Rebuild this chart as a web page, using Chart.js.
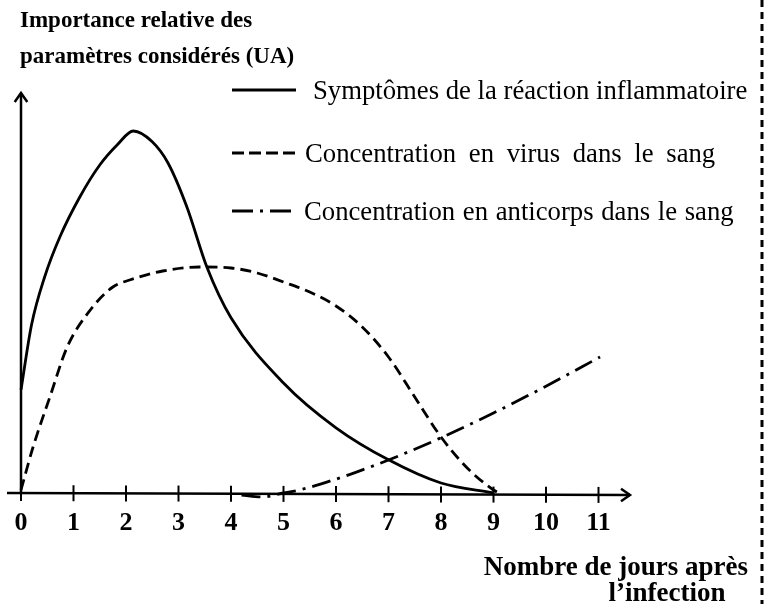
<!DOCTYPE html>
<html>
<head>
<meta charset="utf-8">
<script src="https://cdn.jsdelivr.net/npm/chart.js@4"></script>
<style>
  body { margin: 0; background: #fff; }
  #wrap { width: 765px; height: 604px; }
</style>
</head>
<body>
<div id="wrap"><canvas id="chart" width="765" height="604"></canvas></div>
<script>
// jours après l'infection
const tickLabels = ["0", "1", "2", "3", "4", "5", "6", "7", "8", "9", "10", "11"];

const symptomesJours = [0, 0.2, 0.45, 0.74, 1.12, 1.5, 1.83, 2.14, 2.5, 2.8, 3.16, 3.54, 4, 5, 6, 7, 8, 9];
const symptomesValeurs = [25.8, 42, 54, 64, 74, 82, 87, 90.5, 87.8, 82.5, 71.5, 56.5, 43.8, 27.5, 16.3, 8.3, 2.5, 0];

const virusJours = [0, 0.23, 0.55, 0.88, 1.32, 1.75, 2.07, 2.7, 3.4, 4, 4.5, 5, 5.5, 6, 6.5, 7, 7.5, 8, 8.5, 9, 9.1];
const virusValeurs = [0.75, 11.5, 24, 36.5, 45.75, 51.5, 53.25, 55.5, 56.5, 56.25, 55, 52.75, 50.25, 46.75, 41.5, 34, 24, 14, 6.25, 0.75, 0];

const anticorpsJours = [4.2, 4.6, 5, 5.3, 5.95, 6.6, 7, 8, 9, 10, 11.03];
const anticorpsValeurs = [-0.5, -1, 0, 0.75, 3.25, 6.25, 8.25, 13.8, 20, 26.7, 34];

const labels = [
  "Symptômes de la réaction inflammatoire",
  "Concentration en virus dans le sang",
  "Concentration en anticorps dans le sang",
];

const serif = '"Liberation Serif", "Times New Roman", serif';

function pts(xs, ys) {
  return xs.map((x, i) => ({ x: x, y: ys[i] }));
}

function arrow(ctx, x, y, dx, dy) {
  // petite pointe de flèche ouverte
  const s = 9;
  ctx.beginPath();
  ctx.moveTo(x - dx * s - dy * s * 0.7, y - dy * s - dx * s * 0.7);
  ctx.lineTo(x, y);
  ctx.lineTo(x - dx * s + dy * s * 0.7, y - dy * s + dx * s * 0.7);
  ctx.stroke();
}

const decor = {
  id: "decor",
  beforeDatasetsDraw(chart) {
    const ctx = chart.ctx;
    const xs = chart.scales.x;
    const ys = chart.scales.y;
    const x0 = xs.getPixelForValue(0);
    const y0 = ys.getPixelForValue(0);
    const top = ys.getPixelForValue(ys.max);
    const right = xs.getPixelForValue(xs.max);

    ctx.save();
    ctx.strokeStyle = "#000";
    ctx.lineWidth = 2.5;
    ctx.lineCap = "butt";
    // axe y
    ctx.beginPath();
    ctx.moveTo(x0, y0);
    ctx.lineTo(x0, top);
    ctx.stroke();
    arrow(ctx, x0, top, 0, -1);
    // axe x
    ctx.beginPath();
    ctx.moveTo(x0 - 14, y0);
    ctx.lineTo(right, y0 + 2);
    ctx.stroke();
    arrow(ctx, right, y0 + 2, 1, 0);
    // graduations
    ctx.lineWidth = 2;
    tickLabels.forEach((t, i) => {
      const px = xs.getPixelForValue(i);
      const py = y0 + (2 * (px - x0 + 14)) / (right - x0 + 14);
      ctx.beginPath();
      ctx.moveTo(px, py - 8);
      ctx.lineTo(px, py + 8);
      ctx.stroke();
    });
    ctx.restore();
  },
  afterDraw(chart) {
    const ctx = chart.ctx;
    const xs = chart.scales.x;
    const ys = chart.scales.y;
    const y0 = ys.getPixelForValue(0);
    ctx.save();
    ctx.fillStyle = "#000";

    // étiquettes des jours
    ctx.font = "bold 26px " + serif;
    ctx.textAlign = "center";
    ctx.textBaseline = "middle";
    tickLabels.forEach((t, i) => {
      ctx.fillText(t, xs.getPixelForValue(i), y0 + 30);
    });

    // titre de l'axe y
    ctx.font = "bold 23px " + serif;
    ctx.textAlign = "left";
    ctx.textBaseline = "alphabetic";
    ctx.fillText("Importance relative des", 20, 27);
    ctx.fillText("paramètres considérés (UA)", 20, 63);

    // titre de l'axe x
    ctx.font = "bold 27px " + serif;
    ctx.textAlign = "right";
    ctx.fillText("Nombre de jours après", 748, 575);
    ctx.textAlign = "center";
    ctx.fillText("l\u2019infection", 667, 601);

    // légende
    ctx.font = "26.7px " + serif;
    ctx.textAlign = "left";
    ctx.textBaseline = "middle";
    const rows = [
      { y: 90, tx: 313, ws: 0, dash: [] },
      { y: 153, tx: 305, ws: 6, dash: [12, 5] },
      { y: 211, tx: 304, ws: 1, dash: [21, 7, 3, 7] },
    ];
    chart.data.datasets.forEach((ds, i) => {
      const r = rows[i];
      ctx.save();
      ctx.strokeStyle = "#000";
      ctx.lineWidth = ds.borderWidth;
      ctx.setLineDash(r.dash);
      ctx.beginPath();
      ctx.moveTo(232, r.y);
      ctx.lineTo(296, r.y);
      ctx.stroke();
      ctx.restore();
      ctx.save();
      if ("wordSpacing" in ctx) ctx.wordSpacing = r.ws + "px";
      ctx.fillText(ds.label, r.tx, r.y + 2);
      ctx.restore();
    });

    // cadre pointillé à droite
    ctx.strokeStyle = "#000";
    ctx.lineWidth = 3;
    ctx.setLineDash([7, 5]);
    ctx.beginPath();
    ctx.moveTo(762, 0);
    ctx.lineTo(762, 604);
    ctx.stroke();
    ctx.restore();
  },
};

new Chart(document.getElementById("chart"), {
  type: "line",
  data: {
    datasets: [
      {
        label: labels[0],
        data: pts(symptomesJours, symptomesValeurs),
        borderColor: "#000",
        borderWidth: 2.8,
        borderDash: [],
      },
      {
        label: labels[1],
        data: pts(virusJours, virusValeurs),
        borderColor: "#000",
        borderWidth: 2.8,
        borderDash: [11, 6],
      },
      {
        label: labels[2],
        data: pts(anticorpsJours, anticorpsValeurs),
        borderColor: "#000",
        borderWidth: 2.8,
        borderDash: [19, 7, 3, 7],
      },
    ],
  },
  options: {
    responsive: false,
    animation: false,
    clip: false,
    layout: { padding: { left: 21, right: 135, top: 93, bottom: 111 } },
    elements: {
      point: { radius: 0 },
      line: { cubicInterpolationMode: "monotone", fill: false },
    },
    scales: {
      x: { type: "linear", min: 0, max: 11.6, display: false },
      y: { min: 0, max: 100, display: false },
    },
    plugins: {
      legend: { display: false },
      tooltip: { enabled: false },
    },
  },
  plugins: [decor],
});
</script>
</body>
</html>
